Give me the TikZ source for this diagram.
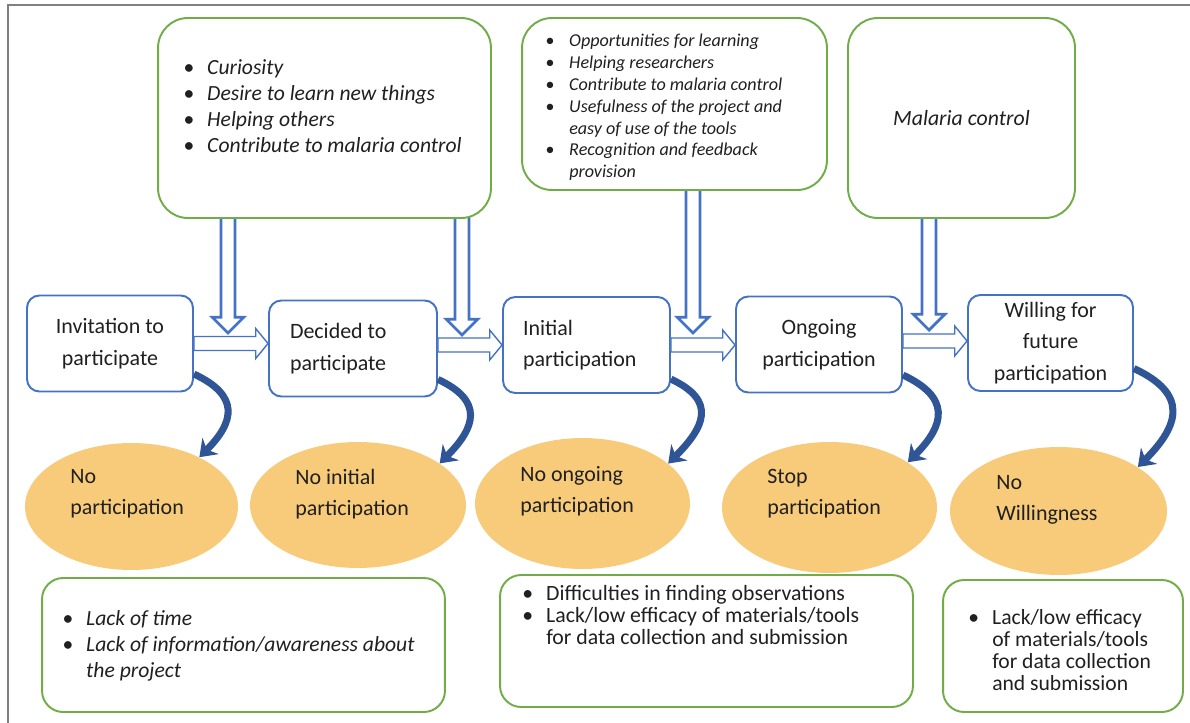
\documentclass[tikz,border=0pt]{standalone}
\usepackage{fontspec}
\setmainfont{Carlito}
\usetikzlibrary{calc,arrows.meta,backgrounds,shapes.geometric}

\definecolor{stageblue}{RGB}{68,114,196}
\definecolor{curveblue}{RGB}{47,85,151}
\definecolor{boxgreen}{RGB}{112,173,71}
\definecolor{ovalorange}{RGB}{248,203,122}
\definecolor{framegray}{RGB}{127,127,127}
\definecolor{textblack}{RGB}{32,32,32}

\newcommand{\lbul}{\makebox[13.6pt][l]{\textbullet}}
\newcommand{\lind}{\hspace*{13.6pt}}

\tikzset{
  blockarrow/.style n args={3}{draw=stageblue, fill=white,
    to path={(\tikztostart) coordinate (bas) (\tikztotarget) coordinate (bat)
      ($(bas)!#1!90:(bat)$)
      -- ($(bat)!#3!(bas)!#1!-90:(bas)$)
      -- ($(bat)!#3!(bas)!#2!-90:(bas)$)
      -- (bat)
      -- ($(bat)!#3!(bas)!#2!90:(bas)$)
      -- ($(bat)!#3!(bas)!#1!90:(bas)$)
      -- ($(bas)!#1!-90:(bat)$) -- cycle}},
  harrow/.style={blockarrow={4pt}{8.5pt}{7pt}, line width=0.8pt},
  varrow/.style={blockarrow={4pt}{9pt}{9pt}, line width=1.6pt},
  stage/.style={draw=stageblue, line width=1.1pt, rounded corners=7pt, fill=white,
    minimum height=1.92cm, inner sep=0pt, text=textblack,
    font=\fontsize{12.5}{18}\selectfont},
  reason/.style={draw=boxgreen, line width=1.1pt, fill=white, rounded corners=17pt},
  barrier/.style={draw=boxgreen, line width=1.1pt, fill=white, rounded corners=12pt},
  oval/.style={ellipse, fill=ovalorange, inner sep=0pt},
  list/.style={anchor=west, align=left, inner sep=0pt, text=textblack},
  ovaltext/.style={anchor=west, align=left, inner sep=0pt, text=textblack,
    font=\fontsize{12.5}{17.5}\selectfont},
  dropout/.style={draw=curveblue, line width=4pt, looseness=1.55,
    -{Stealth[length=9pt,width=13pt]}},
}

\begin{document}
\begin{tikzpicture}[x=0.02cm, y=-0.02cm]
\useasboundingbox (0,0) rectangle (1190,723);
\draw[framegray, line width=1.5pt] (8,723) -- (8,5) -- (1190,5);

% motivations
\node[reason, minimum width=6.66cm, minimum height=4cm] (m1) at (324.5,118) {};
\node[list, font=\fontsize{12.3}{14.9}\selectfont\itshape] (m1t) at (183,106)
  {\lbul Curiosity\\\lbul Desire to learn new things\\\lbul Helping others\\\lbul Contribute to malaria control};
\node[reason, minimum width=6.10cm, minimum height=3.44cm] (m2) at (674.5,104) {};
\node[list, font=\fontsize{10.3}{12.4}\selectfont\itshape] (m2t) at (545,107.5)
  {\lbul Opportunities for learning\\\lbul Helping researchers\\\lbul Contribute to malaria control\\\lbul Usefulness of the project and\\\lind easy of use of the tools\\\lbul Recognition and feedback\\\lind provision};
\node[reason, minimum width=4.54cm, minimum height=4cm, text=textblack,
  font=\fontsize{12.4}{15}\selectfont\itshape] (m3) at (961.5,118) {Malaria control};

% stages
\node[stage, minimum width=3.32cm, align=center] (s1) at (110,343.5) {Invitation to\\participate};
\node[stage, minimum width=3.36cm, text width=2.52cm, align=flush left] (s2) at (353,348.5) {Decided to\\participate};
\node[stage, minimum width=3.34cm, text width=2.54cm, align=flush left] (s3) at (586.5,345) {Initial\\participation};
\node[stage, minimum width=3.32cm, align=center] (s4) at (819,344.5) {Ongoing\\participation};
\node[stage, minimum width=3.30cm, align=center] (s5) at (1050.5,343) {Willing for\\future\\participation};

% drop outs
\node[oval, minimum width=4.26cm, minimum height=2.54cm] (e1) at (131.5,506.5) {};
\node[ovaltext] (e1t) at (70,494) {No\\participation};
\node[oval, minimum width=4.32cm, minimum height=2.52cm] (e2) at (358,505) {};
\node[ovaltext] (e2t) at (295,494) {No initial\\participation};
\node[oval, minimum width=4.30cm, minimum height=2.62cm] (e3) at (582.5,503.5) {};
\node[ovaltext] (e3t) at (520,491.5) {No ongoing\\participation};
\node[oval, minimum width=4.30cm, minimum height=2.62cm] (e4) at (829.5,507.5) {};
\node[ovaltext] (e4t) at (767,494) {Stop\\participation};
\node[oval, minimum width=4.34cm, minimum height=2.56cm] (e5) at (1058.5,511) {};
\node[ovaltext] (e5t) at (996,499.5) {No\\Willingness};

% barriers
\node[barrier, minimum width=8.06cm, minimum height=2.68cm] (b1) at (243.5,645) {};
\node[list, font=\fontsize{12.3}{14.7}\selectfont\itshape] (b1t) at (62,646)
  {\lbul Lack of time\\\lbul Lack of information/awareness about\\\lind the project};
\node[barrier, minimum width=8.26cm, minimum height=2.64cm] (b2) at (706.5,641) {};
\node[list, font=\fontsize{12.4}{12.6}\selectfont] (b2t) at (522,615)
  {\lbul Difficulties in finding observations\\\lbul Lack/low efficacy of materials/tools\\\lind for data collection and submission};
\node[barrier, minimum width=4.8cm, minimum height=2.64cm] (b3) at (1063,646) {};
\node[list, font=\fontsize{12.3}{12.4}\selectfont] (b3t) at (968,650)
  {\lbul Lack/low efficacy\\\lind of materials/tools\\\lind for data collection\\\lind and submission};

% flow arrows
\coordinate (h1) at (s1.east -| s2.west);
\coordinate (h2) at (s3.west -| s2.east);
\coordinate (h3) at (s3.east -| s4.west);
\coordinate (h4) at ([yshift=2pt]s4.east -| s5.west);
\draw[harrow] (s1.east) to (h1);
\draw[harrow] (h2) to (s3.west);
\draw[harrow] (s3.east) to (h3);
\draw[harrow] ([yshift=2pt]s4.east) to (h4);

\coordinate (v1) at (228,333);
\coordinate (v2) at (462,335);
\coordinate (v3) at (693,333);
\coordinate (v4) at (929,330);
\begin{scope}[on background layer]
\draw[varrow] ($(m1.south -| v1)+(0,-4)$) to (v1);
\draw[varrow] ($(m1.south -| v2)+(0,-4)$) to (v2);
\draw[varrow] ($(m2.south -| v3)+(0,-4)$) to (v3);
\draw[varrow] ($(m3.south -| v4)+(0,-4)$) to (v4);
\end{scope}

\draw[dropout] (s1.-20) to[out=-25, in=45] (e1.36);
\draw[dropout] (s2.-20) to[out=-25, in=45] (e2.27);
\draw[dropout] (s3.-22) to[out=-25, in=45] (e3.25);
\draw[dropout] (s4.-20) to[out=-25, in=45] (e4.30);
\draw[dropout] (s5.-17) to[out=-25, in=45] (e5.29);
\end{tikzpicture}
\end{document}
